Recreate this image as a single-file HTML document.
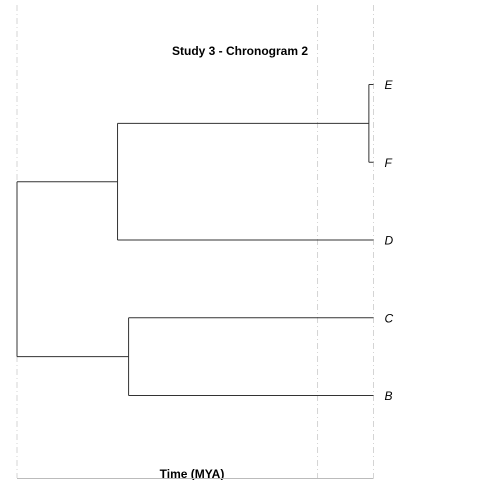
<!DOCTYPE html>
<html><head><meta charset="utf-8"><style>
html,body{margin:0;padding:0;background:#fff;width:480px;height:480px;overflow:hidden}
svg{display:block;font-family:"Liberation Sans",sans-serif}
</style></head><body>
<svg id="chart" width="480" height="480">
<text x="240" y="55" text-anchor="middle" font-size="12" font-weight="bold" fill="#000">Study 3 - Chronogram 2</text>
<text x="192" y="478" text-anchor="middle" font-size="12" font-weight="bold" fill="#000">Time (MYA)</text>
</svg>
<script>
// Data
const rootAge = 100;
const tipNames = ["E","F","D","C","B"];
const gridAges = [100, 15.7, 0];
// internal nodes: [age, childA, childB] (children: tip names or node ids)
const nodeIds = ["root","nEFD","nEF","nCB"];
const nodeAges = [100, 71.8, 1.3, 68.7];
const nodeChildren = [["nEFD","nCB"],["nEF","D"],["E","F"],["C","B"]];

const svg = document.getElementById('chart');
const NS = 'http://www.w3.org/2000/svg';
const x = a => 373.5 - (a / rootAge) * (373.5 - 17);
const y = i => 84.5 + i * 77.75;

function mk(tag, attrs){const e=document.createElementNS(NS,tag);for(const k in attrs)e.setAttribute(k,attrs[k]);svg.appendChild(e);return e;}

gridAges.forEach(a=>{
  const l=mk('line',{x1:x(a),x2:x(a),y1:5,y2:478,stroke:'#d4d4d4','stroke-width':1,'stroke-dasharray':'6,3,1,3'});
  
  
});
const ax=mk('line',{x1:x(rootAge),x2:x(0),y1:478.5,y2:478.5,stroke:'#bbb','stroke-width':1});



const posY={}, posX={};
tipNames.forEach((n,i)=>{posY[n]=y(i);posX[n]=x(0);});
function resolve(id){
  if(posY[id]!==undefined) return posY[id];
  const k=nodeIds.indexOf(id);
  const ys=nodeChildren[k].map(resolve);
  posY[id]=(ys[0]+ys[1])/2; posX[id]=x(nodeAges[k]);
  return posY[id];
}
resolve("root");
nodeIds.forEach((id,k)=>{
  const nx=posX[id];
  const ys=nodeChildren[k].map(c=>posY[c]);
  const v=mk('line',{x1:nx,x2:nx,y1:ys[0],y2:ys[1],stroke:'#333','stroke-width':1});
  
  
  nodeChildren[k].forEach(c=>{
    const h=mk('line',{x1:nx,x2:posX[c],y1:posY[c],y2:posY[c],stroke:'#333','stroke-width':1});
    
    
  });
});
const rb=mk('line',{x1:x(rootAge)-0.5,x2:x(rootAge),y1:posY.root,y2:posY.root,stroke:'#333'});


tipNames.forEach(n=>{
  const t=mk('text',{x:x(0)+11,y:posY[n]+4.5,'font-size':12,'font-style':'italic',fill:'#000'});
  t.textContent=n;
  
  
});
</script>
</body></html>
